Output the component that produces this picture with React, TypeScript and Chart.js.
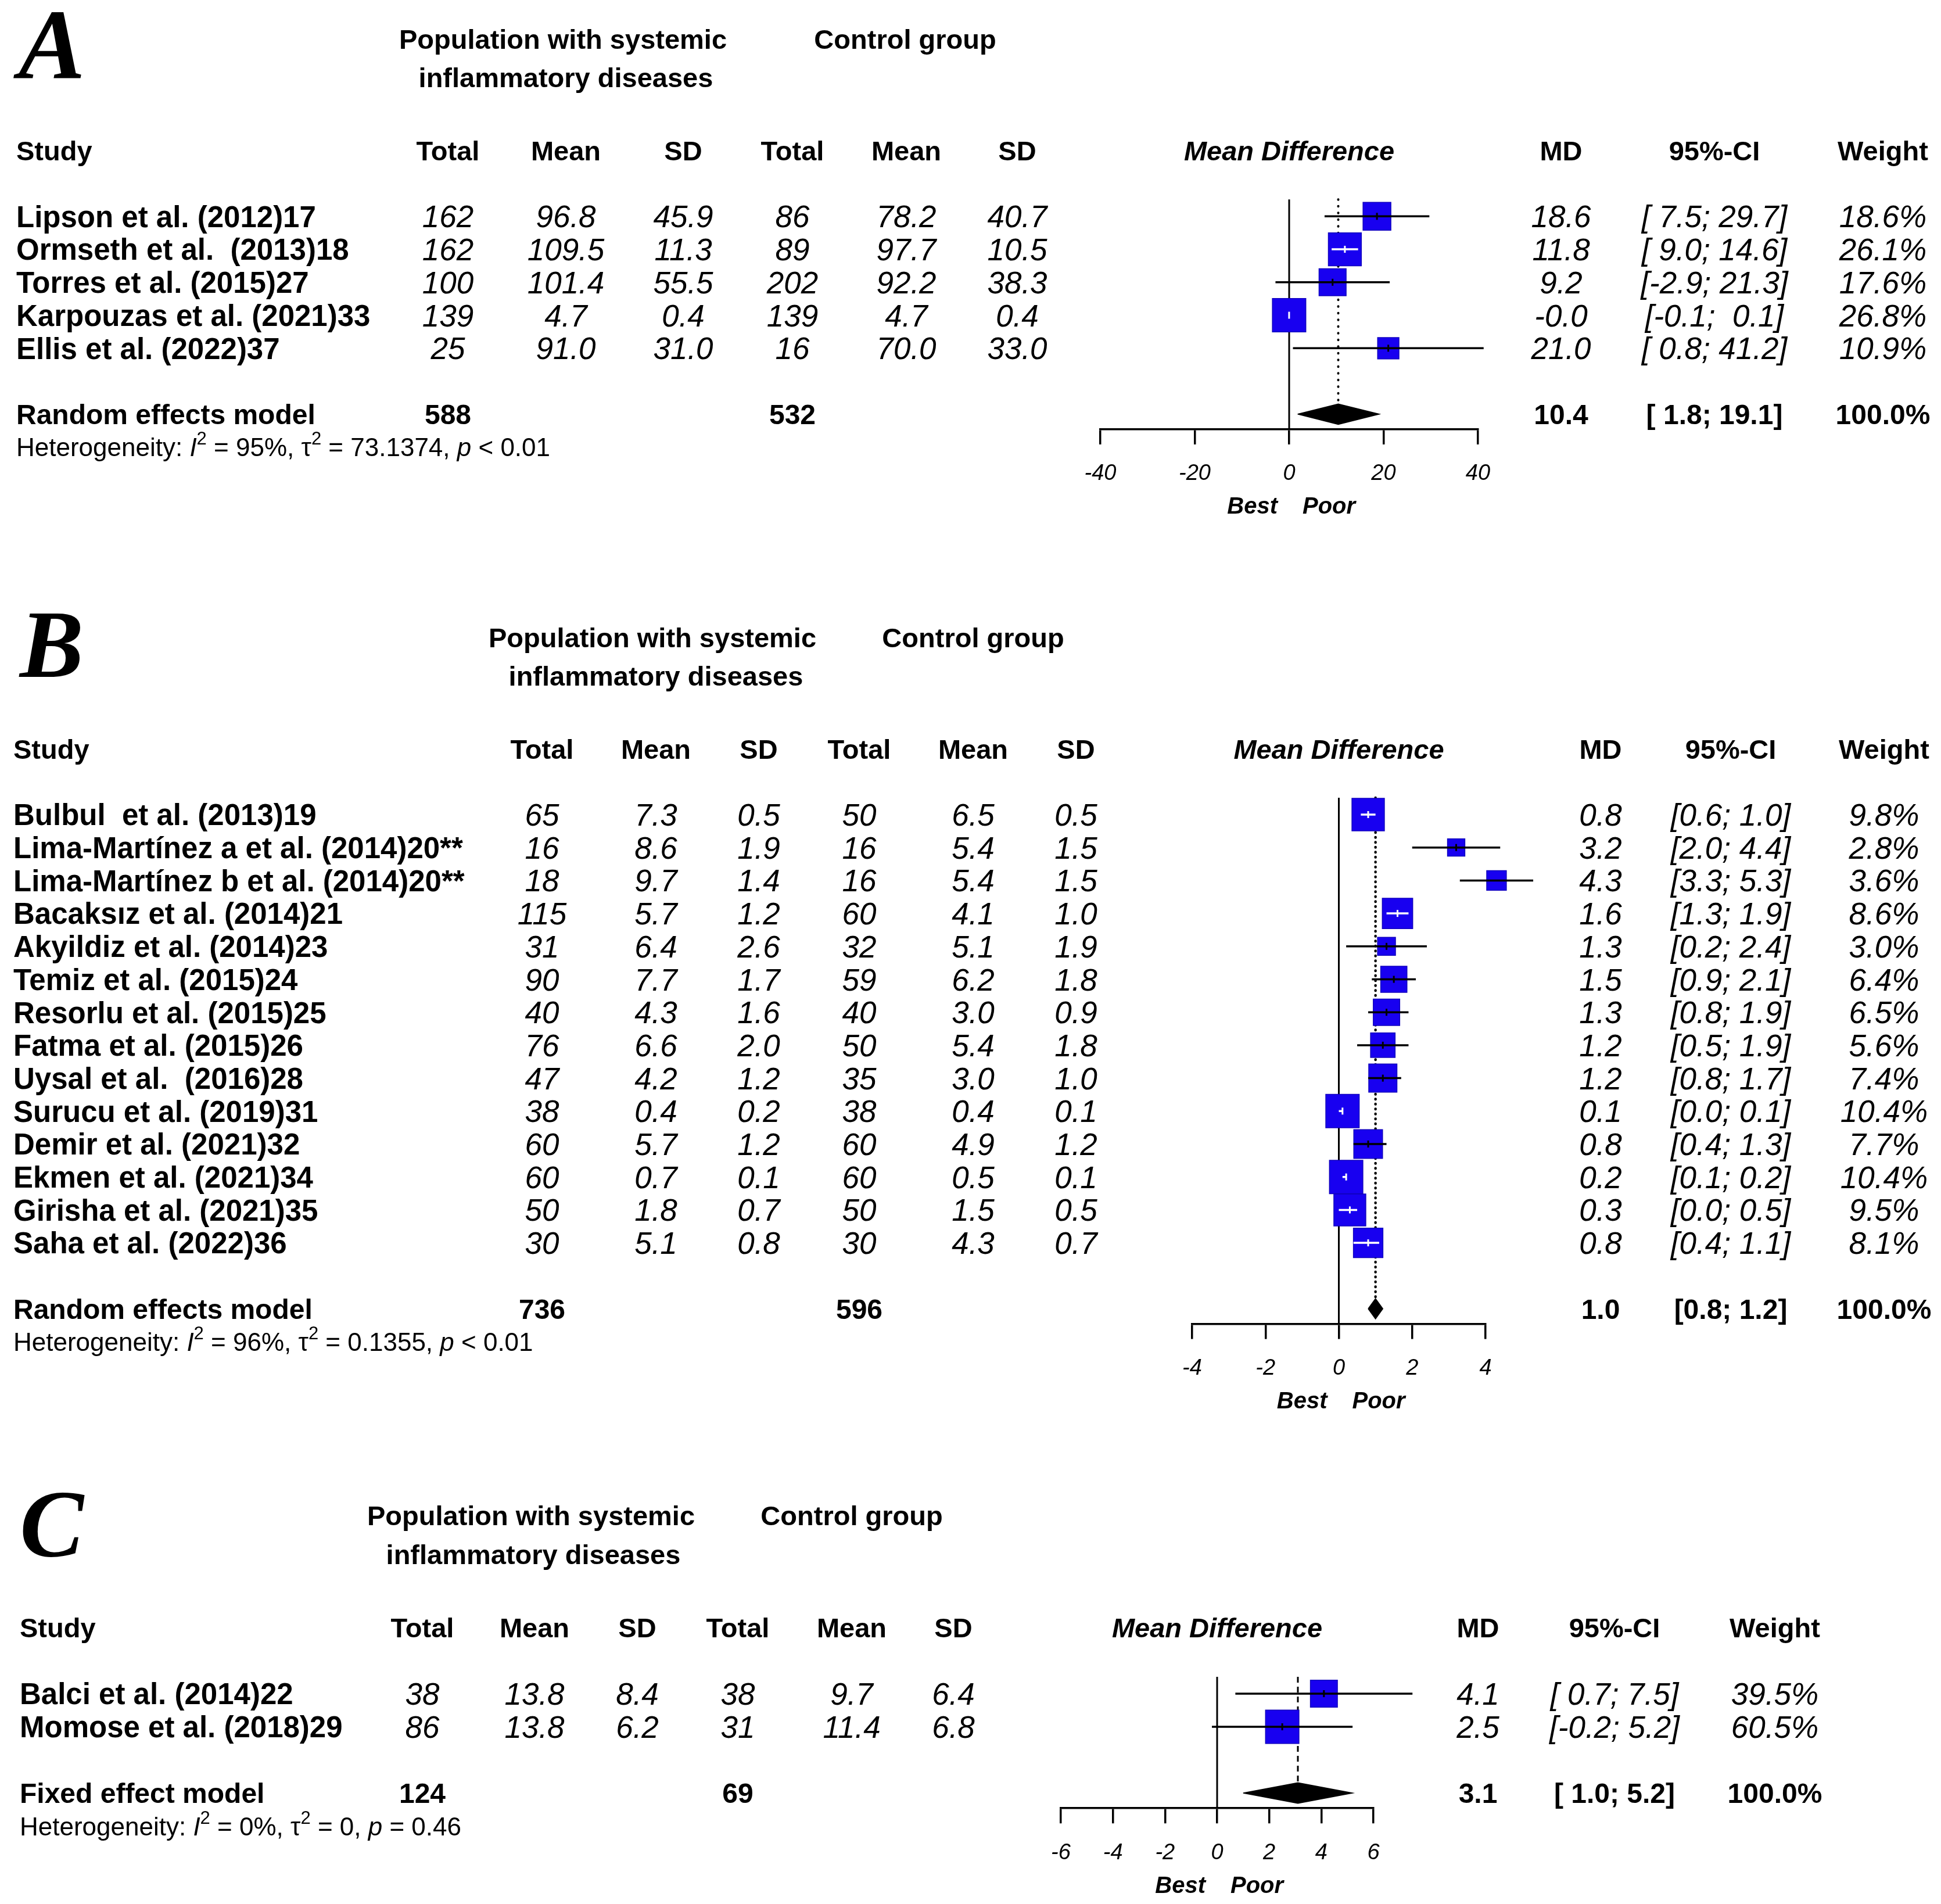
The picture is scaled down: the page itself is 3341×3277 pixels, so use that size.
import React, { useEffect, useRef } from 'react';
import { Chart, registerables } from 'chart.js';

Chart.register(...registerables);

// ---------------- Panel A data ----------------
const aNames = ['Lipson et al. (2012)17', 'Ormseth et al.  (2013)18', 'Torres et al. (2015)27', 'Karpouzas et al. (2021)33', 'Ellis et al. (2022)37'];
const aExpTotal = [162, 162, 100, 139, 25];
const aExpMean = [96.8, 109.5, 101.4, 4.7, 91.0];
const aExpSD = [45.9, 11.3, 55.5, 0.4, 31.0];
const aCtrlTotal = [86, 89, 202, 139, 16];
const aCtrlMean = [78.2, 97.7, 92.2, 4.7, 70.0];
const aCtrlSD = [40.7, 10.5, 38.3, 0.4, 33.0];
const aMD = [18.6, 11.8, 9.2, -0.01, 21.0];
const aLower = [7.5, 9.0, -2.9, -0.1, 0.8];
const aUpper = [29.7, 14.6, 21.3, 0.1, 41.2];
const aWeight = [18.6, 26.1, 17.6, 26.8, 10.9];
const aPooledTotals = [588, 532];
const aPooledCI = [10.4, 1.8, 19.1];
const aHet = ['95%', '73.1374', '< 0.01'];
const aTicks = [-40, -20, 0, 20, 40];

// ---------------- Panel B data ----------------
const bNames = ['Bulbul  et al. (2013)19', 'Lima-Martínez a et al. (2014)20**', 'Lima-Martínez b et al. (2014)20**', 'Bacaksız et al. (2014)21', 'Akyildiz et al. (2014)23', 'Temiz et al. (2015)24', 'Resorlu et al. (2015)25', 'Fatma et al. (2015)26', 'Uysal et al.  (2016)28', 'Surucu et al. (2019)31', 'Demir et al. (2021)32', 'Ekmen et al. (2021)34', 'Girisha et al. (2021)35', 'Saha et al. (2022)36'];
const bExpTotal = [65, 16, 18, 115, 31, 90, 40, 76, 47, 38, 60, 60, 50, 30];
const bExpMean = [7.3, 8.6, 9.7, 5.7, 6.4, 7.7, 4.3, 6.6, 4.2, 0.4, 5.7, 0.7, 1.8, 5.1];
const bExpSD = [0.5, 1.9, 1.4, 1.2, 2.6, 1.7, 1.6, 2.0, 1.2, 0.2, 1.2, 0.1, 0.7, 0.8];
const bCtrlTotal = [50, 16, 16, 60, 32, 59, 40, 50, 35, 38, 60, 60, 50, 30];
const bCtrlMean = [6.5, 5.4, 5.4, 4.1, 5.1, 6.2, 3.0, 5.4, 3.0, 0.4, 4.9, 0.5, 1.5, 4.3];
const bCtrlSD = [0.5, 1.5, 1.5, 1.0, 1.9, 1.8, 0.9, 1.8, 1.0, 0.1, 1.2, 0.1, 0.5, 0.7];
const bMD = [0.8, 3.2, 4.3, 1.6, 1.3, 1.5, 1.3, 1.2, 1.2, 0.1, 0.8, 0.2, 0.3, 0.8];
const bLower = [0.6, 2.0, 3.3, 1.3, 0.2, 0.9, 0.8, 0.5, 0.8, 0.0, 0.4, 0.1, 0.0, 0.4];
const bUpper = [1.0, 4.4, 5.3, 1.9, 2.4, 2.1, 1.9, 1.9, 1.7, 0.1, 1.3, 0.2, 0.5, 1.1];
const bWeight = [9.8, 2.8, 3.6, 8.6, 3.0, 6.4, 6.5, 5.6, 7.4, 10.4, 7.7, 10.4, 9.5, 8.1];
const bPooledTotals = [736, 596];
const bPooledCI = [1.0, 0.8, 1.2];
const bHet = ['96%', '0.1355', '< 0.01'];
const bTicks = [-4, -2, 0, 2, 4];

// ---------------- Panel C data ----------------
const cNames = ['Balci et al. (2014)22', 'Momose et al. (2018)29'];
const cExpTotal = [38, 86];
const cExpMean = [13.8, 13.8];
const cExpSD = [8.4, 6.2];
const cCtrlTotal = [38, 31];
const cCtrlMean = [9.7, 11.4];
const cCtrlSD = [6.4, 6.8];
const cMD = [4.1, 2.5];
const cLower = [0.7, -0.2];
const cUpper = [7.5, 5.2];
const cWeight = [39.5, 60.5];
const cPooledTotals = [124, 69];
const cPooledCI = [3.1, 1.0, 5.2];
const cHet = ['0%', '0', '= 0.46'];
const cTicks = [-6, -4, -2, 0, 2, 4, 6];

// ---------------- Layout / style ----------------
const PAGE_W = 3341;
const PAGE_H = 3277;
const AXIS_H = 150;
const SANS = '"Liberation Sans", Arial, Helvetica, sans-serif';
const SERIF = '"Liberation Serif", "Times New Roman", serif';
const NAME_FS = 51;
const NUM_FS = 53;
const HEAD_FS = 47;
const POOL_FS = 48;
const HET_FS = 44;
const SQ = 57.5;
const DIAMOND_H = 0.31;
const BLUE = 'rgb(24,0,240)';
const BLUE_EDGE = 'rgb(16,0,190)';

type Panel = {
  letter: string; top: number; height: number; row0: number; spacing: number;
  plotLeft: number; plotRight: number; ticks: number[];
  names: string[]; expTotal: number[]; expMean: number[]; expSD: number[];
  ctrlTotal: number[]; ctrlMean: number[]; ctrlSD: number[];
  md: number[]; lower: number[]; upper: number[]; weight: number[];
  pooledLabel: string; pooledTotals: number[]; pooledCI: number[]; het: string[];
  letterX: number; letterFS: number; nameX: number; colX: number[]; mdX: number; ciX: number; wX: number;
  popX: number; inflX: number; ctrlX: number;
  dash: number[]; cap: CanvasLineCap; dashW: number;
};

const PANELS: Panel[] = [
  {
    letter: 'A', top: 0, height: 940, row0: 372.3, spacing: 56.75, plotLeft: 1894, plotRight: 2544, ticks: aTicks,
    names: aNames, expTotal: aExpTotal, expMean: aExpMean, expSD: aExpSD, ctrlTotal: aCtrlTotal, ctrlMean: aCtrlMean, ctrlSD: aCtrlSD,
    md: aMD, lower: aLower, upper: aUpper, weight: aWeight,
    pooledLabel: 'Random effects model', pooledTotals: aPooledTotals, pooledCI: aPooledCI, het: aHet,
    letterX: 32, letterFS: 172, nameX: 28, colX: [771, 974, 1176, 1364, 1560, 1751], mdX: 2687, ciX: 2951, wX: 3241,
    popX: 969, inflX: 974, ctrlX: 1558, dash: [0.5, 11], cap: 'round', dashW: 4,
  },
  {
    letter: 'B', top: 940, height: 1520, row0: 462, spacing: 56.7, plotLeft: 2052, plotRight: 2557, ticks: bTicks,
    names: bNames, expTotal: bExpTotal, expMean: bExpMean, expSD: bExpSD, ctrlTotal: bCtrlTotal, ctrlMean: bCtrlMean, ctrlSD: bCtrlSD,
    md: bMD, lower: bLower, upper: bUpper, weight: bWeight,
    pooledLabel: 'Random effects model', pooledTotals: bPooledTotals, pooledCI: bPooledCI, het: bHet,
    letterX: 34, letterFS: 165, nameX: 23, colX: [933, 1129, 1306, 1479, 1675, 1852], mdX: 2755, ciX: 2979, wX: 3243,
    popX: 1123, inflX: 1129, ctrlX: 1675, dash: [0.5, 8], cap: 'round', dashW: 4.5,
  },
  {
    letter: 'C', top: 2460, height: 817, row0: 455, spacing: 57, plotLeft: 1826, plotRight: 2364, ticks: cTicks,
    names: cNames, expTotal: cExpTotal, expMean: cExpMean, expSD: cExpSD, ctrlTotal: cCtrlTotal, ctrlMean: cCtrlMean, ctrlSD: cCtrlSD,
    md: cMD, lower: cLower, upper: cUpper, weight: cWeight,
    pooledLabel: 'Fixed effect model', pooledTotals: cPooledTotals, pooledCI: cPooledCI, het: cHet,
    letterX: 34, letterFS: 165, nameX: 34, colX: [727, 920, 1097, 1270, 1466, 1641], mdX: 2544, ciX: 2779, wX: 3055,
    popX: 914, inflX: 918, ctrlX: 1466, dash: [10, 7], cap: 'butt', dashW: 3,
  },
];

const f1 = (v: number) => v.toFixed(1);
const padL = (s: string, n: number) => (s.length >= n ? s : ' '.repeat(n - s.length) + s);

function ciStrings(p: Panel) {
  const los = [...p.lower, p.pooledCI[1]].map(f1);
  const his = [...p.upper, p.pooledCI[2]].map(f1);
  const wl = Math.max(...los.map((s) => s.length));
  const wh = Math.max(...his.map((s) => s.length));
  return los.map((l, i) => `[${padL(l, wl)}; ${padL(his[i], wh)}]`);
}

function drawText(chart: any, p: Panel) {
  const ctx: CanvasRenderingContext2D = chart.ctx;
  const ys = chart.scales.y;
  const xs = chart.scales.x;
  const Y = (r: number) => ys.getPixelForValue(r);
  const n = p.names.length;
  const pooledRow = n + 1;
  const cis = ciStrings(p);
  const put = (s: string, x: number, r: number, font: string, size: number, align: CanvasTextAlign = 'center') => {
    ctx.font = font;
    ctx.textAlign = align;
    ctx.textBaseline = 'alphabetic';
    ctx.fillText(s, x, Y(r) + 0.36 * size);
  };
  const HB = `bold ${HEAD_FS}px ${SANS}`;
  const HBI = `bold italic ${HEAD_FS}px ${SANS}`;
  const NB = `bold ${NAME_FS}px ${SANS}`;
  const NI = `italic ${NUM_FS}px ${SANS}`;
  const PB = `bold ${POOL_FS}px ${SANS}`;

  ctx.save();
  ctx.fillStyle = '#000';

  // panel letter
  ctx.font = `bold italic ${p.letterFS}px ${SERIF}`;
  ctx.textAlign = 'left';
  ctx.textBaseline = 'alphabetic';
  ctx.fillText(p.letter, p.letterX, p.row0 - 237);

  // group headers
  put('Population with systemic', p.popX, -5.38, HB, HEAD_FS);
  put('inflammatory diseases', p.inflX, -4.21, HB, HEAD_FS);
  put('Control group', p.ctrlX, -5.38, HB, HEAD_FS);

  // column headers
  const hr = -1.99;
  put('Study', p.nameX, hr, HB, HEAD_FS, 'left');
  ['Total', 'Mean', 'SD', 'Total', 'Mean', 'SD'].forEach((h, k) => put(h, p.colX[k], hr, HB, HEAD_FS));
  put('Mean Difference', (chart.chartArea.left + chart.chartArea.right) / 2, hr, HBI, HEAD_FS);
  put('MD', p.mdX, hr, HB, HEAD_FS);
  put('95%-CI', p.ciX, hr, HB, HEAD_FS);
  put('Weight', p.wX, hr, HB, HEAD_FS);

  // study rows
  for (let i = 0; i < n; i++) {
    put(p.names[i], p.nameX, i, NB, NAME_FS, 'left');
    const vals = [String(p.expTotal[i]), f1(p.expMean[i]), f1(p.expSD[i]), String(p.ctrlTotal[i]), f1(p.ctrlMean[i]), f1(p.ctrlSD[i])];
    vals.forEach((v, k) => put(v, p.colX[k], i, NI, NUM_FS));
    put(f1(p.md[i]), p.mdX, i, NI, NUM_FS);
    put(cis[i], p.ciX, i, NI, NUM_FS);
    put(`${f1(p.weight[i])}%`, p.wX, i, NI, NUM_FS);
  }

  // pooled row
  put(p.pooledLabel, p.nameX, pooledRow, PB, POOL_FS, 'left');
  put(String(p.pooledTotals[0]), p.colX[0], pooledRow, PB, POOL_FS);
  put(String(p.pooledTotals[1]), p.colX[3], pooledRow, PB, POOL_FS);
  put(f1(p.pooledCI[0]), p.mdX, pooledRow, PB, POOL_FS);
  put(cis[n], p.ciX, pooledRow, PB, POOL_FS);
  put('100.0%', p.wX, pooledRow, PB, POOL_FS);

  // heterogeneity line
  const hy = Y(pooledRow + 1) + 0.36 * HET_FS;
  const N = `${HET_FS}px ${SANS}`;
  const IT = `italic ${HET_FS}px ${SANS}`;
  const SUP = `${Math.round(HET_FS * 0.7)}px ${SANS}`;
  const segs: [string, string, number][] = [
    ['Heterogeneity: ', N, 0], ['I', IT, 0], ['2', SUP, -20], [` = ${p.het[0]}, `, N, 0],
    ['τ', N, 0], ['2', SUP, -20], [` = ${p.het[1]}, `, N, 0], ['p', IT, 0], [` ${p.het[2]}`, N, 0],
  ];
  let x = p.nameX;
  ctx.textAlign = 'left';
  for (const [s, font, dy] of segs) {
    ctx.font = font;
    ctx.fillText(s, x, hy + dy);
    x += ctx.measureText(s).width;
  }

  // Best / Poor
  const x0 = xs.getPixelForValue(0);
  const bp = pooledRow + 2.77;
  put('Best', x0 - 20, bp, `bold italic 40px ${SANS}`, 40, 'right');
  put('Poor', x0 + 23, bp, `bold italic 40px ${SANS}`, 40, 'left');

  ctx.restore();
}

function makeChart(canvas: HTMLCanvasElement, p: Panel) {
  const n = p.names.length;
  const pooledRow = n + 1;
  const yMin = -0.51;
  const yMax = pooledRow + 0.46;
  const chartTop = p.row0 + yMin * p.spacing;
  const chartBottom = p.row0 + yMax * p.spacing;
  const wMax = Math.max(...p.weight);
  const sizeOf = (i: number) => SQ * Math.sqrt(p.weight[i] / wMax);
  const inside = (chart: any, i: number) => {
    const xs = chart.scales.x;
    if (!xs) return false;
    return xs.getPixelForValue(p.upper[i]) - xs.getPixelForValue(p.lower[i]) <= sizeOf(i) - 2;
  };
  const [pmd, plo, phi] = p.pooledCI;

  const datasets: any[] = [];
  // reference line at zero
  datasets.push({
    data: [{ x: 0, y: yMin }, { x: 0, y: yMax }],
    borderColor: '#000', borderWidth: 3, pointRadius: 0, order: 10, clip: false,
  });
  // pooled estimate line
  datasets.push({
    data: [{ x: pmd, y: yMin }, { x: pmd, y: pooledRow - DIAMOND_H }],
    borderColor: '#000', borderWidth: p.dashW, borderDash: p.dash, borderCapStyle: p.cap, pointRadius: 0, order: 9, clip: false,
  });
  // study squares
  datasets.push({
    data: p.md.map((m, i) => ({ x: m, y: i })),
    showLine: false, pointStyle: 'rect',
    pointRadius: (c: any) => sizeOf(c.dataIndex ?? 0) / Math.SQRT2,
    pointBackgroundColor: BLUE, pointBorderColor: BLUE_EDGE, pointBorderWidth: 1.5, order: 5, clip: false,
  });
  // confidence intervals
  p.md.forEach((_, i) => {
    datasets.push({
      data: [{ x: p.lower[i], y: i }, { x: p.upper[i], y: i }],
      borderColor: (c: any) => (inside(c.chart, i) ? '#fff' : '#000'),
      borderWidth: 3.5, pointRadius: 0, order: 1, clip: false,
    });
  });
  // estimate marks
  datasets.push({
    data: p.md.map((m, i) => ({ x: m, y: i })),
    showLine: false, pointStyle: 'line', pointRotation: 90, pointRadius: 6, pointBorderWidth: 3,
    pointBorderColor: (c: any) => (inside(c.chart, c.dataIndex ?? 0) ? '#fff' : '#000'), order: 0, clip: false,
  });
  // pooled diamond
  datasets.push({
    data: [
      { x: plo, y: pooledRow }, { x: pmd, y: pooledRow - DIAMOND_H }, { x: phi, y: pooledRow },
      { x: pmd, y: pooledRow + DIAMOND_H }, { x: plo, y: pooledRow },
    ],
    fill: 'shape', backgroundColor: '#000', borderColor: '#000', borderWidth: 1.5, pointRadius: 0, order: 2, clip: false,
  });

  const plugin = { id: 'forestText' + p.letter, afterDraw: (chart: any) => drawText(chart, p) };

  return new Chart(canvas, {
    type: 'line',
    data: { datasets },
    options: {
      responsive: false,
      animation: false,
      devicePixelRatio: 1,
      events: [],
      layout: {
        padding: {
          left: p.plotLeft,
          right: PAGE_W - p.plotRight,
          top: chartTop,
          bottom: p.height - chartBottom - AXIS_H,
        },
      },
      plugins: { legend: { display: false }, tooltip: { enabled: false }, title: { display: false } },
      scales: {
        x: {
          type: 'linear',
          min: p.ticks[0],
          max: p.ticks[p.ticks.length - 1],
          afterBuildTicks: (s: any) => { s.ticks = p.ticks.map((v) => ({ value: v })); },
          afterFit: (s: any) => { s.height = AXIS_H; },
          grid: { display: true, drawOnChartArea: false, drawTicks: true, tickLength: 26, lineWidth: 3.5, color: '#000' },
          border: { display: true, color: '#000', width: 3.5 },
          ticks: {
            color: '#000', padding: 28, maxRotation: 0, autoSkip: false,
            font: { family: SANS, size: 38, style: 'italic' },
            callback: (v: any) => String(v),
          },
        },
        y: { type: 'linear', display: false, reverse: true, min: yMin, max: yMax },
      },
    } as any,
    plugins: [plugin],
  } as any);
}

export default function App() {
  const r0 = useRef<HTMLCanvasElement>(null);
  const r1 = useRef<HTMLCanvasElement>(null);
  const r2 = useRef<HTMLCanvasElement>(null);
  const refs = [r0, r1, r2];

  useEffect(() => {
    document.body.style.margin = '0';
    const charts = PANELS.map((p, k) => makeChart(refs[k].current as HTMLCanvasElement, p));
    return () => charts.forEach((c) => c.destroy());
  }, []);

  return (
    <div style={{ position: 'relative', width: PAGE_W, height: PAGE_H, background: '#fff', overflow: 'hidden' }}>
      {PANELS.map((p, k) => (
        <canvas
          key={p.letter}
          ref={refs[k]}
          width={PAGE_W}
          height={p.height}
          style={{ position: 'absolute', left: 0, top: p.top, width: PAGE_W, height: p.height }}
        />
      ))}
    </div>
  );
}
